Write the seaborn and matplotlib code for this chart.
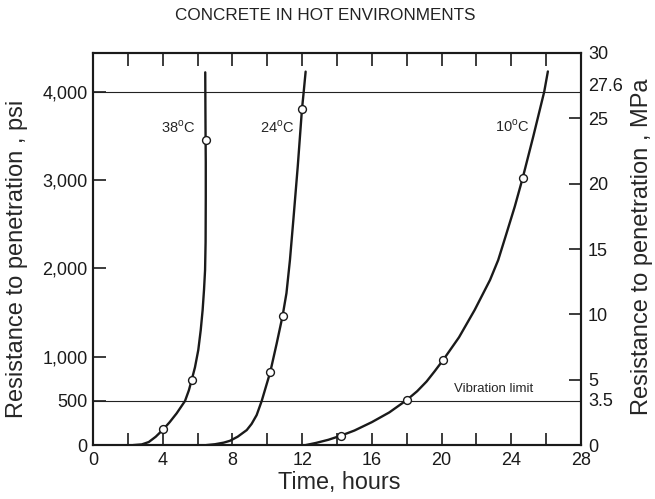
import numpy as np
import pandas as pd
import matplotlib
matplotlib.use('Agg')
import matplotlib.pyplot as plt
import seaborn as sns

# curves (hours, psi)
t38 = [2.3, 2.8, 3.2, 3.6, 4.03, 4.4, 4.8, 5.28, 5.5, 5.66, 5.85, 6.04, 6.18, 6.29,
       6.37, 6.43, 6.46, 6.47, 6.47, 6.46, 6.45, 6.44]
p38 = [0, 8, 35, 95, 178, 260, 360, 500, 620, 736, 880, 1076, 1300, 1529,
       1760, 1982, 2300, 2800, 3200, 3454, 3800, 4220]
t24 = [6.5, 7.0, 7.5, 7.86, 8.3, 8.82, 9.1, 9.39, 9.68, 10.17, 10.54, 10.88,
       11.1, 11.3, 11.5, 11.75, 11.99, 12.09, 12.2]
p24 = [0, 10, 28, 49, 95, 170, 240, 340, 500, 827, 1151, 1465,
       1720, 2095, 2560, 3160, 3802, 4000, 4228]
t10 = [12.2, 12.8, 13.5, 14.21, 15.0, 16.0, 17.0, 18.0, 18.6, 19.14, 19.6, 20.1,
       21.0, 21.9, 22.78, 23.25, 23.7, 24.2, 24.65, 25.26, 25.89, 26.1]
p10 = [0, 25, 60, 106, 165, 260, 370, 510, 610, 720, 835, 966,
       1220, 1530, 1869, 2095, 2380, 2700, 3020, 3492, 4000, 4230]

# measured points (circles)
pt_t = [4.03, 5.66, 6.46, 10.17, 10.88, 11.99, 14.21, 18.0, 20.1, 24.65]
pt_p = [178, 736, 3454, 827, 1465, 3802, 106, 510, 966, 3020]

temps = ['38', '24', '10']
lbl_x = [4.88, 10.56, 24.04]
lbl_y = [3600, 3600, 3610]

psi_ticks = [0, 500, 1000, 2000, 3000, 4000]
psi_labels = ['0', '500', '1,000', '2,000', '3,000', '4,000']
mpa_major = [0, 5, 10, 15, 20, 25]
mpa_minor = [3.5, 27.6, 30]
limit_lines = [500, 4000]

sns.set_style('ticks')
plt.rcParams['font.family'] = ['Liberation Sans', 'DejaVu Sans']
plt.rcParams['mathtext.fontset'] = 'custom'
plt.rcParams['mathtext.rm'] = 'Liberation Sans'

df = pd.concat([
    pd.DataFrame({'t': t38, 'p': p38, 'temp': '38'}),
    pd.DataFrame({'t': t24, 'p': p24, 'temp': '24'}),
    pd.DataFrame({'t': t10, 'p': p10, 'temp': '10'}),
])
pts = pd.DataFrame({'t': pt_t, 'p': pt_p})

fig = plt.figure(figsize=(6.55, 4.99), dpi=100)
ax = fig.add_axes([0.142, 0.108, 0.745, 0.786])

for y in limit_lines:
    ax.axhline(y, color='#222222', lw=0.8, zorder=1)

sns.lineplot(data=df, x='t', y='p', hue='temp', palette=['#1a1a1a'] * 3,
             sort=False, estimator=None, lw=1.7, legend=False, ax=ax, zorder=2)
sns.scatterplot(data=pts, x='t', y='p', marker='o', s=32, facecolor='white',
                edgecolor='#1a1a1a', linewidth=1.0, ax=ax, zorder=3)

for tmp, x, y in zip(temps, lbl_x, lbl_y):
    ax.text(x, y, tmp + r'$^{\mathrm{o}}$C', ha='center', va='center', fontsize=10.5)
ax.text(22.97, 634, 'Vibration limit', ha='center', va='center', fontsize=9.5)

ax.set_xlim(0, 28)
ax.set_ylim(0, 4440)
ax.set_xticks(range(0, 29, 4))
ax.set_xticks(range(2, 28, 4), minor=True)
ax.set_yticks(psi_ticks)
ax.set_yticklabels(psi_labels)
ax.tick_params(axis='both', which='both', direction='in', length=9, width=1.2,
               labelsize=13, colors='#1a1a1a', top=True, pad=4)
ax.tick_params(axis='x', pad=5)
ax.tick_params(axis='x', which='both', labeltop=False)
ax.set_xlabel('Time, hours', fontsize=16.8)
ax.set_ylabel('Resistance to penetration , psi', fontsize=17)
ax.xaxis.set_label_coords(0.504, -0.066)
ax.yaxis.set_label_coords(-0.133, 0.475)
for s in ax.spines.values():
    s.set_linewidth(1.5)
    s.set_color('#1a1a1a')

ax2 = ax.twinx()
ax2.set_ylim(0, 30)
ax2.set_yticks(mpa_major)
ax2.set_yticklabels([str(v) for v in mpa_major])
ax2.set_yticks(mpa_minor, minor=True)
ax2.set_yticklabels(['3.5', '27.6', '30'], minor=True)
ax2.tick_params(axis='y', which='major', direction='in', length=9, width=1.2,
                labelsize=13, colors='#1a1a1a', pad=5)
ax2.tick_params(axis='y', which='minor', direction='in', length=0,
                labelsize=13, colors='#1a1a1a', pad=5)
ax2.set_ylabel('Resistance to penetration , MPa', fontsize=17)
ax2.yaxis.set_label_coords(1.102, 0.505)
for s in ax2.spines.values():
    s.set_linewidth(1.5)
    s.set_color('#1a1a1a')

fig.text(0.497, 0.968, 'CONCRETE IN HOT ENVIRONMENTS', ha='center', va='center',
         fontsize=12.3, color='#222222')

fig.savefig('out.png', dpi=100)
